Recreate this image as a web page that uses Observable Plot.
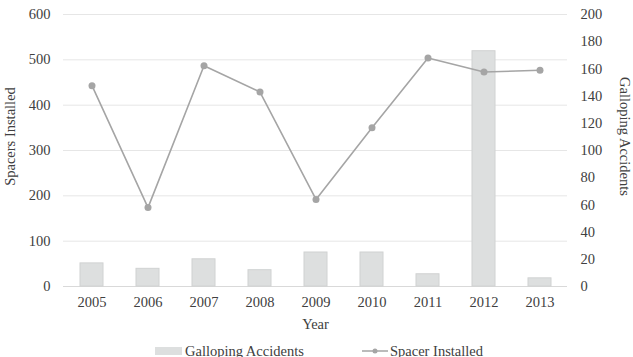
<!DOCTYPE html>
<html>
<head>
<meta charset="utf-8">
<script src="https://cdn.jsdelivr.net/npm/d3@7"></script>
<script src="https://cdn.jsdelivr.net/npm/@observablehq/plot@0.6"></script>
<style>
  html, body { margin: 0; padding: 0; background: #fff; }
  #wrap { position: relative; width: 633px; height: 357px; overflow: hidden; font-family: "Liberation Serif", "Times New Roman", serif; color: #404040; }
  #legend { position: absolute; top: 342px; left: 0; width: 633px; height: 18px; font-size: 14.5px; }
  .item { position: absolute; top: 0; display: flex; align-items: center; height: 18px; }
  .swatch { width: 27px; height: 8px; background: #dddfdf; margin-right: 3px; }
  .lkey { width: 26px; height: 8px; margin-right: 2px; }
</style>
</head>
<body>
<div id="wrap">
  <div id="chart"></div>
  <div id="legend">
    <div class="item" style="left:155px"><span class="swatch"></span><span>Galloping Accidents</span></div>
    <div class="item" style="left:362px"><svg class="lkey" viewBox="0 0 26 8"><line x1="0" y1="4" x2="26" y2="4" stroke="#a5a5a5" stroke-width="1.5"/><circle cx="13" cy="4" r="2.5" fill="#a5a5a5"/></svg><span>Spacer Installed</span></div>
  </div>
</div>
<script>
// Years on the category axis
const years = ["2005", "2006", "2007", "2008", "2009", "2010", "2011", "2012", "2013"];
// Spacers installed per year (left axis)
const spacers = [443, 174, 487, 429, 192, 350, 504, 473, 477];
// Galloping accidents per year (right axis)
const accidents = [17, 13, 20, 12, 25, 25, 9, 173, 6];
// Tick values for both axes
const leftTicks = [0, 100, 200, 300, 400, 500, 600];
const rightTicks = [0, 20, 40, 60, 80, 100, 120, 140, 160, 180, 200];

// The right axis (0–200) shares the left y scale (0–600)
const ratio = 600 / 200;

const rows = years.map((year, i) => ({year, spacers: spacers[i], accidents: accidents[i]}));

const chart = Plot.plot({
  width: 633,
  height: 335,
  marginTop: 14,
  marginBottom: 49,
  marginLeft: 63,
  marginRight: 66,
  style: {fontFamily: "'Liberation Serif', 'Times New Roman', serif", fontSize: "14.5px", color: "#404040", background: "#fff"},
  x: {type: "band", domain: years, paddingInner: 0.59, paddingOuter: 0.295},
  y: {domain: [0, 600]},
  marks: [
    Plot.gridY(leftTicks, {stroke: "#e6e6e6", strokeOpacity: 1}),
    Plot.ruleY([0], {stroke: "#d9d9d9"}),
    Plot.barY(rows, {x: "year", y: d => d.accidents * ratio, fill: "#dddfdf", stroke: "#d0d2d2", strokeWidth: 1}),
    Plot.line(rows, {x: "year", y: "spacers", stroke: "#a5a5a5", strokeWidth: 1.6}),
    Plot.dot(rows, {x: "year", y: "spacers", r: 3.5, fill: "#a5a5a5", stroke: "none"}),
    Plot.axisX({tickSize: 0, tickPadding: 10, label: null}),
    Plot.axisY({anchor: "left", ticks: leftTicks, tickSize: 0, tickPadding: 13, label: null}),
    Plot.axisY({anchor: "right", ticks: rightTicks.map(t => t * ratio), tickFormat: t => t / ratio, tickSize: 0, tickPadding: 13, label: null}),
    Plot.text(["Year"], {text: d => d, frameAnchor: "bottom", dy: 38, lineAnchor: "middle", fontSize: 14.5}),
    Plot.text(["Spacers Installed"], {text: d => d, frameAnchor: "left", textAnchor: "middle", dx: -53, dy: -14, rotate: -90, lineAnchor: "middle", fontSize: 14.5}),
    Plot.text(["Galloping Accidents"], {text: d => d, frameAnchor: "right", textAnchor: "middle", dx: 57, dy: -14, rotate: 90, lineAnchor: "middle", fontSize: 14.5})
  ]
});
document.getElementById("chart").appendChild(chart);
</script>
</body>
</html>
